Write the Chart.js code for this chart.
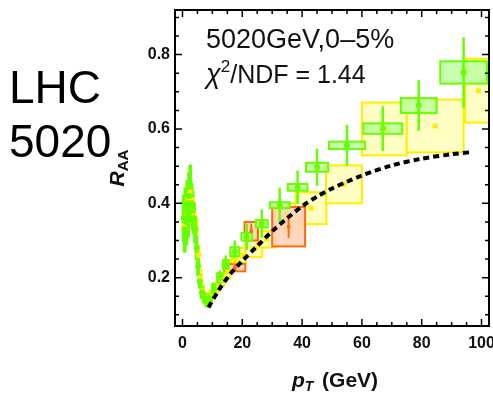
<!DOCTYPE html>
<html>
<head>
<meta charset="utf-8">
<script src="https://cdn.jsdelivr.net/npm/chart.js@4.4.1/dist/chart.umd.min.js"></script>
<style>
html,body{margin:0;padding:0;background:#fff;}
#wrap{position:relative;width:493px;height:395px;}
</style>
</head>
<body>
<div id="wrap"><canvas id="c"></canvas></div>
<script>
// ---- data ----
const xTicks = [0, 20, 40, 60, 80, 100];
const yTicks = [0.2, 0.4, 0.6, 0.8];

// CMS-like (green)
const greenPt   = [0.4,0.7,1.0,1.3,1.6,1.9,2.2,2.6,3.0,3.4,3.8,4.2,4.7,5.2,5.8,6.5,7.3,8.2,9.2,10.5,12.5,14.5,17.5,21.5,26.5,32.5,38.5,45,55,67,79,94];
const greenR    = [0.36,0.33,0.38,0.35,0.40,0.37,0.42,0.45,0.40,0.38,0.36,0.33,0.28,0.23,0.19,0.16,0.145,0.135,0.145,0.17,0.20,0.235,0.27,0.31,0.345,0.395,0.443,0.497,0.556,0.601,0.663,0.752];
const greenErr  = [0.05,0.05,0.05,0.05,0.05,0.05,0.05,0.055,0.05,0.045,0.04,0.035,0.03,0.025,0.02,0.016,0.014,0.013,0.014,0.016,0.02,0.025,0.03,0.035,0.038,0.047,0.045,0.05,0.055,0.06,0.068,0.095];
const greenBoxW = [0.3,0.3,0.3,0.3,0.3,0.3,0.3,0.3,0.3,0.3,0.3,0.3,0.3,0.3,0.35,0.4,0.45,0.5,0.55,0.6,0.9,1.0,1.5,1.8,2.0,3.3,3.3,3.7,6.0,6.5,6.0,7.8];
const greenBoxH = [0.06,0.06,0.06,0.06,0.06,0.06,0.06,0.05,0.05,0.05,0.04,0.035,0.03,0.022,0.016,0.014,0.012,0.012,0.012,0.012,0.012,0.012,0.012,0.01,0.01,0.008,0.009,0.012,0.01,0.014,0.02,0.03];

// ALICE-like (yellow)
const yellowPt   = [0.6,1.2,1.8,2.5,3.2,3.9,4.6,5.3,6.0,6.8,7.6,8.5,9.5,11,13,15,17.5,20,23.8,28,35.5,43,54,67.5,84.5,99];
const yellowR    = [0.34,0.37,0.41,0.43,0.41,0.37,0.33,0.26,0.20,0.165,0.145,0.14,0.15,0.17,0.195,0.215,0.245,0.26,0.278,0.303,0.365,0.387,0.451,0.60,0.608,0.703];
const yellowBoxW = [0.3,0.3,0.3,0.3,0.3,0.3,0.35,0.35,0.35,0.4,0.4,0.45,0.5,0.75,1.0,1.0,1.25,1.25,2.85,3.0,4.5,5.15,6.0,7.5,9.5,4.5];
const yellowBoxH = [0.03,0.03,0.03,0.03,0.03,0.03,0.03,0.025,0.02,0.016,0.015,0.015,0.015,0.016,0.018,0.018,0.02,0.02,0.022,0.022,0.035,0.043,0.051,0.071,0.071,0.086];

// ATLAS-like (orange)
const orangePt   = [17.5, 23, 35.5];
const orangeR    = [0.227, 0.325, 0.337];
const orangeErr  = [0.01, 0.02, 0.03];
const orangeBoxW = [3.5, 2.25, 5.5];
const orangeBoxH = [0.01, 0.025, 0.053];

// theory curve
const theoryPt = [8.7,12,16,20,25,30,35,40,45,50,55,60,70,80,90,97];
const theoryR  = [0.12,0.165,0.21,0.245,0.285,0.325,0.36,0.392,0.418,0.44,0.458,0.475,0.502,0.52,0.532,0.538];

const toXY = (xs, ys) => xs.map((v, i) => ({x: v, y: ys[i]}));

const GREEN = '#66ff00', GREEN_FILL = 'rgba(190,255,160,0.85)';
const YEL = '#ffee00', YEL_FILL = 'rgba(255,255,190,0.9)';
const ORA = '#ff6a10', ORA_FILL = 'rgba(255,210,185,0.9)';
const FONT = '"Liberation Sans", Arial, sans-serif';

function drawBoxes(ctx, x, y, pts, rs, hw, hh, stroke, fill) {
  ctx.lineWidth = 2;
  for (let i = 0; i < pts.length; i++) {
    const l = x.getPixelForValue(pts[i] - hw[i]), r = x.getPixelForValue(pts[i] + hw[i]);
    const t = y.getPixelForValue(rs[i] + hh[i]), b = y.getPixelForValue(rs[i] - hh[i]);
    ctx.fillStyle = fill; ctx.fillRect(l, t, r - l, b - t);
    ctx.strokeStyle = stroke; ctx.strokeRect(l, t, r - l, b - t);
  }
}
function drawErr(ctx, x, y, pts, rs, err, color, w) {
  ctx.strokeStyle = color; ctx.lineWidth = w;
  for (let i = 0; i < pts.length; i++) {
    const px = x.getPixelForValue(pts[i]);
    ctx.beginPath();
    ctx.moveTo(px, y.getPixelForValue(rs[i] + err[i]));
    ctx.lineTo(px, y.getPixelForValue(rs[i] - err[i]));
    ctx.stroke();
  }
}
function drawSub(ctx, parts, x, y) {
  let cx = x;
  for (const p of parts) {
    ctx.font = p.font;
    ctx.fillText(p.t, cx, y + (p.dy || 0));
    cx += ctx.measureText(p.t).width + (p.sp || 0);
  }
  return cx - x;
}
function measureParts(ctx, parts) {
  let w = 0;
  for (const p of parts) { ctx.font = p.font; w += ctx.measureText(p.t).width + (p.sp || 0); }
  return w;
}

const plug = {
  id: 'extras',
  beforeDatasetsDraw(chart) {
    const {ctx, chartArea: a, scales: {x, y}} = chart;
    ctx.save();
    ctx.beginPath(); ctx.rect(a.left, a.top, a.right - a.left, a.bottom - a.top); ctx.clip();
    drawBoxes(ctx, x, y, yellowPt, yellowR, yellowBoxW, yellowBoxH, YEL, YEL_FILL);
    drawBoxes(ctx, x, y, orangePt, orangeR, orangeBoxW, orangeBoxH, ORA, ORA_FILL);
    drawErr(ctx, x, y, orangePt, orangeR, orangeErr, ORA, 2);
    drawBoxes(ctx, x, y, greenPt, greenR, greenBoxW, greenBoxH, GREEN, GREEN_FILL);
    drawErr(ctx, x, y, greenPt, greenR, greenErr, GREEN, 2.5);
    ctx.restore();
  },
  afterDraw(chart) {
    const {ctx, chartArea: a, scales: {x, y}} = chart;
    ctx.save();
    // frame
    ctx.strokeStyle = '#000'; ctx.lineWidth = 2;
    ctx.strokeRect(a.left, a.top, a.right - a.left, a.bottom - a.top);
    // inward ticks, all sides
    ctx.lineWidth = 1.5;
    for (let v = 0; v <= 100; v += 5) {
      const px = x.getPixelForValue(v);
      const L = (v % 20 === 0) ? 7 : 4;
      ctx.beginPath();
      ctx.moveTo(px, a.bottom); ctx.lineTo(px, a.bottom - L);
      ctx.moveTo(px, a.top); ctx.lineTo(px, a.top + L);
      ctx.stroke();
    }
    for (let k = 2; k <= 18; k++) {
      const v = k * 0.05;
      const py = y.getPixelForValue(v);
      const L = (k % 4 === 0) ? 7 : 4;
      ctx.beginPath();
      ctx.moveTo(a.left, py); ctx.lineTo(a.left + L, py);
      ctx.moveTo(a.right, py); ctx.lineTo(a.right - L, py);
      ctx.stroke();
    }
    ctx.fillStyle = '#111';
    ctx.textBaseline = 'alphabetic';
    ctx.textAlign = 'left';
    // inner annotation
    ctx.font = '27px ' + FONT;
    ctx.fillText('5020GeV,0\u20135%', 206, 48);
    drawSub(ctx, [
      {t: '\u03c7', font: 'italic 27px ' + FONT},
      {t: '2', font: '17px ' + FONT, dy: -11},
      {t: '/NDF = 1.44', font: '25px ' + FONT}
    ], 206, 83);
    // left big label
    ctx.fillStyle = '#000';
    ctx.font = '46px ' + FONT;
    ctx.fillText('LHC', 9, 103);
    ctx.fillText('5020', 9, 157);
    // y title R_AA rotated
    ctx.fillStyle = '#111';
    const yParts = [
      {t: 'R', font: 'bold italic 21px ' + FONT},
      {t: 'AA', font: 'bold 15px ' + FONT, dy: 4}
    ];
    const yw = measureParts(ctx, yParts);
    ctx.save();
    ctx.translate(124, 168);
    ctx.rotate(-Math.PI / 2);
    drawSub(ctx, yParts, -yw / 2, 0);
    ctx.restore();
    // x title p_T (GeV)
    const xParts = [
      {t: 'p', font: 'bold italic 21px ' + FONT},
      {t: 'T', font: 'bold italic 14px ' + FONT, dy: 4, sp: 3},
      {t: ' (GeV)', font: 'bold 21px ' + FONT}
    ];
    const xw = measureParts(ctx, xParts);
    drawSub(ctx, xParts, (a.left + a.right) / 2 - xw / 2 + 3, 387);
    ctx.restore();
  }
};

new Chart(document.getElementById('c'), {
  type: 'scatter',
  data: {
    datasets: [
      {label: 'theory', data: toXY(theoryPt, theoryR), showLine: true, borderColor: '#000',
       borderWidth: 4, borderDash: [6, 4], pointRadius: 0, tension: 0.3, order: 0},
      {label: 'green', data: toXY(greenPt, greenR), pointStyle: 'circle', pointRadius: 3,
       backgroundColor: GREEN, borderColor: GREEN, borderWidth: 0, order: 1},
      {label: 'orange', data: toXY(orangePt, orangeR), pointStyle: 'rect', pointRadius: 2.5,
       backgroundColor: ORA, borderColor: ORA, borderWidth: 0, order: 2},
      {label: 'yellow', data: toXY(yellowPt, yellowR), pointStyle: 'rect', pointRadius: 3.5,
       backgroundColor: YEL, borderColor: YEL, borderWidth: 0, order: 3}
    ]
  },
  options: {
    responsive: true,
    maintainAspectRatio: false,
    animation: false,
    events: [],
    layout: {padding: {left: 0, right: 3, top: 10, bottom: 0}},
    plugins: {legend: {display: false}, tooltip: {enabled: false}},
    scales: {
      x: {
        type: 'linear', min: -2.5, max: 102.5,
        afterBuildTicks: s => { s.ticks = xTicks.map(v => ({value: v})); },
        afterFit: s => { s.height = 69; s.paddingLeft = 0; s.paddingRight = 0; },
        grid: {display: false, drawTicks: false},
        border: {display: false},
        ticks: {color: '#111', padding: 8, maxRotation: 0, autoSkip: false,
                font: {family: FONT, size: 16, weight: 'bold'},
                callback: v => String(v)}
      },
      y: {
        type: 'linear', min: 0.07, max: 0.92,
        afterBuildTicks: s => { s.ticks = yTicks.map(v => ({value: v})); },
        afterFit: s => { s.width = 175; s.paddingTop = 0; s.paddingBottom = 0; },
        grid: {display: false, drawTicks: false},
        border: {display: false},
        ticks: {color: '#111', padding: 5, autoSkip: false,
                font: {family: FONT, size: 16, weight: 'bold'},
                callback: v => v.toFixed(1)}
      }
    }
  },
  plugins: [plug]
});
</script>
</body>
</html>
